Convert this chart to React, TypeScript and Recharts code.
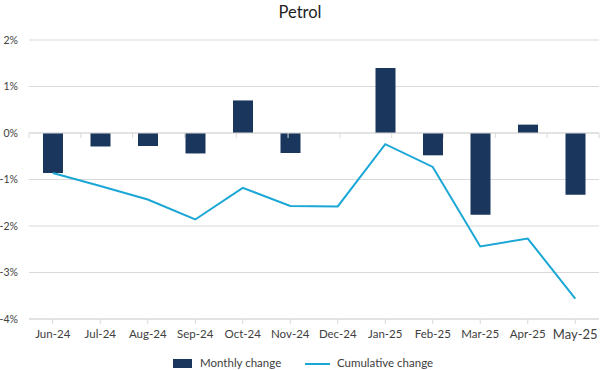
import React from "react";
import { ComposedChart, Bar, Line, XAxis, YAxis, CartesianGrid, Legend, ReferenceLine } from "recharts";

const months = ["Jun-24", "Jul-24", "Aug-24", "Sep-24", "Oct-24", "Nov-24", "Dec-24", "Jan-25", "Feb-25", "Mar-25", "Apr-25", "May-25"];
const monthlyChange = [-0.86, -0.29, -0.28, -0.44, 0.7, -0.43, 0, 1.4, -0.48, -1.76, 0.18, -1.33];
const cumulativeChange = [-0.86, -1.14, -1.43, -1.86, -1.18, -1.57, -1.58, -0.24, -0.73, -2.44, -2.27, -3.56];
const yTicks = [-4, -3, -2, -1, 0, 1, 2];
const boundaries = [0, 1, 2, 3, 4, 5, 6, 7, 8, 9, 10, 11, 12];

const data = months.map((m, i) => ({ month: m, monthly: monthlyChange[i], cumulative: cumulativeChange[i] }));

const FONT = "Lato, 'Noto Sans', sans-serif";
const BAR = "#1b365d";
const LINE = "#1aa7d5";
const GRID = "#d9d9d9";

const XTick = (props: any) => {
  const { x, y, payload, index } = props;
  const last = index === months.length - 1;
  return (
    <text x={x} y={y} dy="0.71em" textAnchor="middle" fontFamily={FONT} fontSize={last ? 13 : 11.5} fill="#404040">
      {payload.value}
    </text>
  );
};

const LegendContent = () => (
  <div style={{ position: "relative", height: 26, fontFamily: FONT, fontSize: 11.5, color: "#404040" }}>
    <div style={{ position: "absolute", left: 173, top: 15, width: 19, height: 9, background: BAR }} />
    <span style={{ position: "absolute", left: 200, top: 12, whiteSpace: "nowrap" }}>Monthly change</span>
    <div style={{ position: "absolute", left: 305, top: 19, width: 25, height: 2, background: LINE }} />
    <span style={{ position: "absolute", left: 337, top: 12, whiteSpace: "nowrap" }}>Cumulative change</span>
  </div>
);

export default function App() {
  return (
    <div style={{ position: "absolute", left: 0, top: 0, width: 600, height: 370, background: "#fff" }}>
      <div style={{ position: "absolute", left: 0, top: 0, width: 600, textAlign: "center", fontFamily: FONT, fontSize: 16.5, color: "#222", lineHeight: "24px" }}>
        Petrol
      </div>
      <ComposedChart width={600} height={370} data={data} margin={{ top: 40, right: 1, left: 0, bottom: 0 }}>
        <CartesianGrid vertical={false} stroke={GRID} strokeWidth={1} />
        <XAxis
          dataKey="month"
          height={25}
          tick={<XTick />}
          tickLine={{ stroke: GRID }}
          axisLine={{ stroke: GRID }}
          tickSize={5}
          tickMargin={6}
          interval={0}
        />
        <XAxis xAxisId="n" type="number" domain={[0, 12]} hide />
        <YAxis
          domain={[-4, 2]}
          ticks={yTicks}
          width={29}
          axisLine={false}
          tickLine={false}
          tickSize={0}
          tickMargin={11}
          tickFormatter={(v: number) => `${v}%`}
          tick={{ fontFamily: FONT, fontSize: 10.5, fill: "#404040" }}
        />
        <ReferenceLine y={0} stroke={GRID} />
        {boundaries.map((b) => (
          <ReferenceLine key={b} xAxisId="n" segment={[{ x: b, y: 0 }, { x: b, y: -0.11 }]} stroke={GRID} />
        ))}
        <Legend verticalAlign="bottom" height={26} content={<LegendContent />} />
        <Bar dataKey="monthly" name="Monthly change" fill={BAR} barSize={20} isAnimationActive={false} />
        <Line dataKey="cumulative" name="Cumulative change" stroke={LINE} strokeWidth={2} dot={false} type="linear" isAnimationActive={false} />
      </ComposedChart>
    </div>
  );
}
